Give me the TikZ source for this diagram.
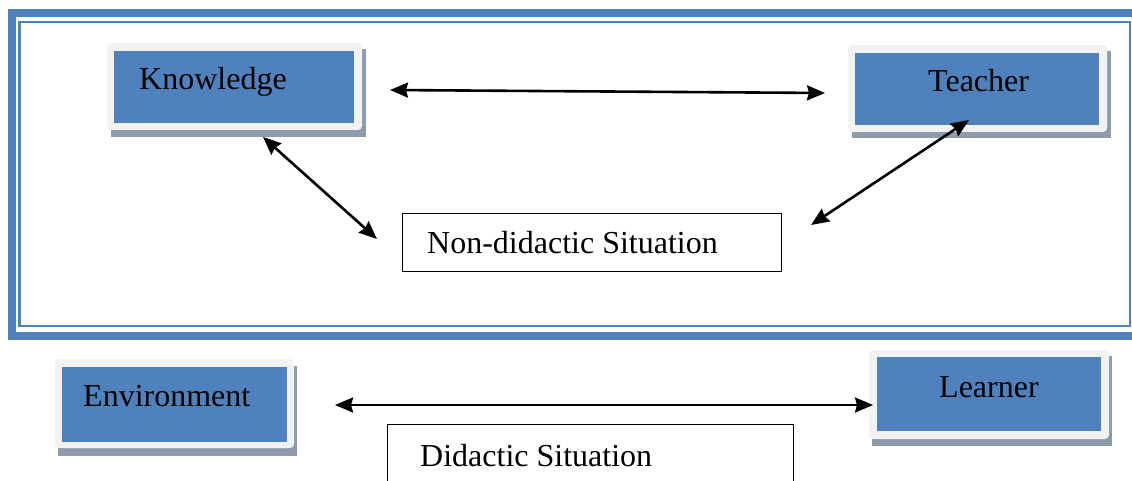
\documentclass[tikz,border=0pt]{standalone}
\usepackage{fontspec}
\setmainfont{Liberation Serif}
\usetikzlibrary{arrows.meta}
\definecolor{frameblue}{HTML}{4F81BD}
\definecolor{boxblue}{HTML}{4F81BD}
\definecolor{lightrim}{HTML}{F2F2F2}
\definecolor{shadowgray}{HTML}{8D9BAC}
\begin{document}
\begin{tikzpicture}[x=1pt,y=-1pt,
  shadowbox/.style={fill=shadowgray},
  rimbox/.style={fill=lightrim, rounded corners=4pt},
  bluebox/.style={fill=boxblue, draw=none, inner sep=0pt, anchor=north west},
  lbl/.style={font=\fontsize{32}{38}\selectfont, inner sep=0pt, anchor=base west},
  sitbox/.style={draw=black, line width=1.3pt, fill=white, inner sep=0pt, anchor=north west},
  tip/.style={Stealth[length=18pt,width=15pt,inset=2pt]},
  arr/.style={line width=2.6pt, {Stealth[length=18pt,width=15pt,inset=2pt]}-{Stealth[length=18pt,width=15pt,inset=2pt]}}]
\useasboundingbox (0,0) rectangle (1132,481);
% frame
\draw[frameblue, line width=8pt] (11.5,13) rectangle (1150,335.5);
\draw[frameblue, line width=2.5pt] (19.5,22) rectangle (1130,326);
% Knowledge
\fill[shadowbox] (111,49) rectangle (366,137);
\fill[rimbox] (107,43) rectangle (362,130);
\node[bluebox, minimum width=240pt, minimum height=72pt] (knowledge) at (114,51) {};
\node[lbl] (knowledgetext) at (139,90) {Knowledge};
% Teacher
\fill[shadowbox] (852,51) rectangle (1111,138);
\fill[rimbox] (848,45) rectangle (1107,132);
\node[bluebox, minimum width=244pt, minimum height=72pt] (teacher) at (855,53) {};
\node[lbl] (teachertext) at (928,92) {Teacher};
% Environment
\fill[shadowbox] (58,366) rectangle (297,456);
\fill[rimbox] (55,359) rectangle (294,448);
\node[bluebox, minimum width=225pt, minimum height=75pt] (environment) at (62,367) {};
\node[lbl] (environmenttext) at (83,406) {Environment};
% Learner
\fill[shadowbox] (872,356) rectangle (1112,446);
\fill[rimbox] (869,350) rectangle (1109,439);
\node[bluebox, minimum width=224pt, minimum height=74pt] (learner) at (877,357) {};
\node[lbl] (learnertext) at (939,397) {Learner};
% situations
\node[sitbox, minimum width=379pt, minimum height=58pt] (nondidactic) at (402,213) {};
\node[lbl] (nondidactictext) at (427,253) {Non-didactic Situation};
\node[sitbox, minimum width=406pt, minimum height=80pt] (didactic) at (387,424) {};
\node[lbl] (didactictext) at (420,466) {Didactic Situation};
% arrow ends
\coordinate (kt1) at (390,90);
\coordinate (kt2) at (825,93);
\coordinate (kn1) at (263,137);
\coordinate (kn2) at (377,239);
\coordinate (tn1) at (969,120);
\coordinate (tn2) at (811,225);
\coordinate (el1) at (335,405);
\coordinate (el2) at (873,405);
\draw[arr] (kt1) -- (kt2);
\draw[arr] (kn1) -- (kn2);
\draw[arr] (tn1) -- (tn2);
\draw[arr] (el1) -- (el2);
\end{tikzpicture}
\end{document}
